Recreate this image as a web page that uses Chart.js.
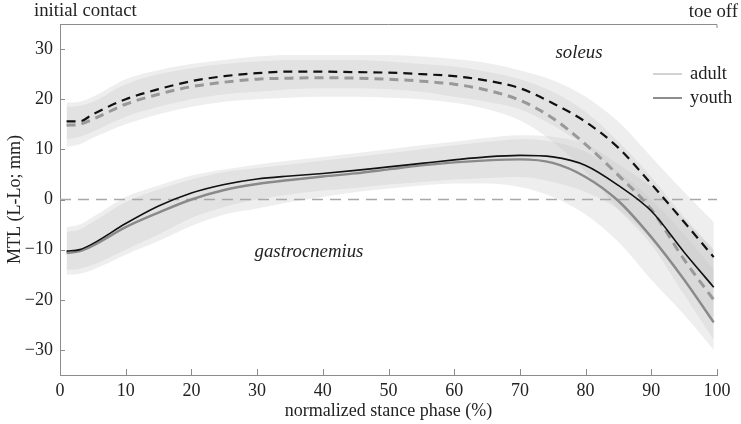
<!DOCTYPE html>
<html lang="en">
<head>
    <meta charset="UTF-8">
    <title>MTL soleus / gastrocnemius</title>
    <script src="https://cdn.jsdelivr.net/npm/chart.js"></script>
    <style>
        html, body { margin: 0; padding: 0; background: #fff; }
        .chart-box { position: relative; width: 741px; height: 424px; }
    </style>
</head>
<body>
    <div class="chart-box">
        <canvas id="mtlChart" width="741" height="424"></canvas>
    </div>

    <script>
        // stance phase (%) sample points
        const xs = [1, 3, 5, 10, 15, 20, 25, 30, 35, 40, 45, 50, 55, 60, 65, 70, 75, 80, 85, 90, 95, 99.5];
        const yTickValues = [-30, -20, -10, 0, 10, 20, 30];

        // soleus (dashed)
        const solYouth   = [15.6, 15.6, 17, 20, 22, 23.6, 24.6, 25.2, 25.5, 25.5, 25.4, 25.3, 25, 24.6, 23.7, 22.2, 19.2, 15.5, 10.3, 3.1, -4.5, -11.5];
        const solAdult   = [14.8, 15, 16, 19, 21, 22.5, 23.4, 24, 24.2, 24.3, 24.2, 24, 23.6, 23, 21.8, 19.8, 16.2, 11, 4.8, -2, -12, -20];
        const solYouthHi = [19.3, 19.5, 20.5, 24, 25.8, 27, 27.8, 28.5, 28.8, 28.8, 28.8, 28.8, 28.5, 28, 27.2, 25.8, 23.8, 20.5, 15.5, 8.5, 1.5, -4.5];
        const solYouthLo = [12, 12.5, 13.5, 16.5, 18.5, 20, 21, 21.5, 22, 22.2, 22.2, 22, 21.5, 20.5, 19.5, 18, 14.8, 10.5, 5, -2, -10, -18];
        const solAdultHi = [18.5, 18.7, 19.5, 23, 25, 26.2, 27, 27.5, 27.8, 27.8, 27.8, 27.5, 27, 26.5, 25.5, 24, 21.5, 17.5, 11.5, 4.5, -3.5, -10];
        const solAdultLo = [10.5, 11, 12.3, 15, 17, 18.5, 19.5, 20, 20.3, 20.5, 20.5, 20.3, 20, 19.3, 18, 15.8, 11.5, 5.5, -2, -9, -19, -28];

        // gastrocnemius (solid)
        const gasYouth   = [-10.3, -10, -8.8, -4.8, -1.3, 1.3, 3, 4.1, 4.7, 5.2, 5.8, 6.5, 7.2, 7.9, 8.5, 8.8, 8.5, 6.8, 2.8, -2.3, -10.5, -17.5];
        const gasAdult   = [-10.7, -10.3, -9.2, -5.5, -2.6, 0, 1.9, 3.1, 3.9, 4.6, 5.2, 6, 6.8, 7.4, 7.8, 8, 7.3, 4.5, -0.3, -7.5, -16, -24.5];
        const gasYouthHi = [-5.5, -5, -3.5, 0.5, 2.8, 4.8, 6, 7, 7.8, 8.5, 9.2, 10, 10.8, 11.5, 12.3, 12.8, 12.5, 11, 7, 2.5, -4, -10];
        const gasYouthLo = [-14, -13.8, -13, -10, -7, -3.7, -1.5, 0, 1, 1.8, 2.3, 3, 3.5, 4, 4.3, 4.5, 3.5, 1.5, -2, -8, -16, -25];
        const gasAdultHi = [-6.5, -6, -4.5, -0.5, 2, 4, 5.5, 6.3, 7, 7.8, 8.5, 9.2, 10, 10.8, 11.5, 12, 11.5, 9.5, 5.5, 0, -7, -14];
        const gasAdultLo = [-15, -14.8, -14, -11, -8.3, -5.3, -3, -1.8, -0.5, 0.5, 1.5, 2.2, 2.8, 3.2, 3.2, 2.5, 0.5, -3, -8.5, -16, -23, -30];

        // zero reference
        const zeroX = [0, 100];
        const zeroY = [0, 0];

        const legendLabels = ['adult', 'youth'];
        const legendColors = ['#cfcfcf', '#808080'];

        const serif = "'Liberation Serif', 'Times New Roman', serif";

        function pts(ys, xv) {
            xv = xv || xs;
            return xv.map((x, i) => ({ x: x, y: ys[i] }));
        }

        function line(ys, color, width, dash) {
            return {
                data: pts(ys),
                borderColor: color,
                borderWidth: width,
                borderDash: dash || [],
                pointRadius: 0,
                fill: false,
                cubicInterpolationMode: 'monotone',
                order: 0
            };
        }

        const bandFill = 'rgba(195,195,195,0.28)';
        function bandHi(ys, target) {
            return {
                data: pts(ys),
                borderWidth: 0,
                borderColor: 'transparent',
                backgroundColor: bandFill,
                pointRadius: 0,
                fill: { target: target },
                cubicInterpolationMode: 'monotone',
                order: 5
            };
        }
        function bandLo(ys) {
            return {
                data: pts(ys),
                borderWidth: 0,
                borderColor: 'transparent',
                pointRadius: 0,
                fill: false,
                cubicInterpolationMode: 'monotone',
                order: 5
            };
        }

        const datasets = [
            line(gasYouth, '#111111', 1.6),
            line(gasAdult, '#8a8a8a', 2.4),
            line(solYouth, '#111111', 2.2, [9, 6]),
            line(solAdult, '#999999', 3, [9, 6]),
            {
                data: pts(zeroY, zeroX),
                borderColor: '#a8a8a8',
                borderWidth: 1.3,
                borderDash: [11, 7],
                pointRadius: 0,
                fill: false,
                order: 3
            },
            bandHi(solYouthHi, 6), bandLo(solYouthLo),     // 5,6
            bandHi(solAdultHi, 8), bandLo(solAdultLo),     // 7,8
            bandHi(gasYouthHi, 10), bandLo(gasYouthLo),    // 9,10
            bandHi(gasAdultHi, 12), bandLo(gasAdultLo)     // 11,12
        ];

        const decorations = {
            id: 'decorations',
            afterDraw(chart) {
                const ctx = chart.ctx;
                const xS = chart.scales.x, yS = chart.scales.y;
                const a = chart.chartArea;
                ctx.save();
                // top frame line
                ctx.strokeStyle = '#8c8c8c';
                ctx.lineWidth = 1;
                ctx.beginPath();
                ctx.moveTo(a.left, a.top + 0.5);
                ctx.lineTo(a.right, a.top + 0.5);
                ctx.lineTo(a.right, a.top + 4);
                ctx.stroke();
                // inward ticks
                ctx.beginPath();
                yS.ticks.forEach(t => {
                    const py = Math.round(yS.getPixelForValue(t.value)) + 0.5;
                    ctx.moveTo(a.left, py);
                    ctx.lineTo(a.left + 5, py);
                });
                xS.ticks.forEach(t => {
                    const px = Math.round(xS.getPixelForValue(t.value)) + 0.5;
                    ctx.moveTo(px, a.bottom);
                    ctx.lineTo(px, a.bottom - 6);
                });
                ctx.stroke();

                // texts
                ctx.fillStyle = '#222';
                ctx.textBaseline = 'middle';
                ctx.font = '18.8px ' + serif;
                ctx.textAlign = 'left';
                ctx.fillText('initial contact', 34, 11);
                ctx.textAlign = 'right';
                ctx.fillText('toe off', 738, 12);

                ctx.font = 'italic 18.8px ' + serif;
                ctx.textAlign = 'center';
                ctx.fillText('soleus', xS.getPixelForValue(79), yS.getPixelForValue(29.2));
                ctx.fillText('gastrocnemius', xS.getPixelForValue(37.9), yS.getPixelForValue(-10.5));

                // legend
                ctx.font = '18.5px ' + serif;
                ctx.textAlign = 'left';
                legendLabels.forEach((lab, i) => {
                    const ly = 74 + i * 24;
                    ctx.strokeStyle = legendColors[i];
                    ctx.lineWidth = 1.8;
                    ctx.beginPath();
                    ctx.moveTo(653, ly);
                    ctx.lineTo(682, ly);
                    ctx.stroke();
                    ctx.fillText(lab, 690, ly);
                });
                ctx.restore();
            }
        };

        new Chart(document.getElementById('mtlChart'), {
            type: 'line',
            data: { datasets: datasets },
            options: {
                responsive: false,
                animation: false,
                events: [],
                layout: { padding: { top: 24, right: 24, left: 0, bottom: 0 } },
                plugins: {
                    legend: { display: false },
                    tooltip: { enabled: false }
                },
                scales: {
                    x: {
                        type: 'linear',
                        min: 0,
                        max: 100,
                        ticks: {
                            stepSize: 10,
                            color: '#222',
                            padding: 5,
                            maxRotation: 0,
                            font: { family: serif, size: 18 }
                        },
                        grid: { display: false, drawTicks: false },
                        border: { display: true, color: '#8c8c8c', width: 1 },
                        title: {
                            display: true,
                            text: 'normalized stance phase (%)',
                            color: '#222',
                            font: { family: serif, size: 18 },
                            padding: { top: 0, bottom: 2 }
                        },
                        afterFit(s) { s.height = 49; }
                    },
                    y: {
                        type: 'linear',
                        min: -35,
                        max: 35,
                        afterBuildTicks(s) {
                            s.ticks = yTickValues.map(v => ({ value: v }));
                        },
                        ticks: {
                            color: '#222',
                            padding: 7,
                            font: { family: serif, size: 18 },
                            callback: v => (v < 0 ? '\u2212' + Math.abs(v) : String(v))
                        },
                        grid: { display: false, drawTicks: false },
                        border: { display: true, color: '#8c8c8c', width: 1 },
                        title: {
                            display: true,
                            text: 'MTL (L-Lo; mm)',
                            color: '#222',
                            font: { family: serif, size: 18 },
                            padding: { top: 4, bottom: 0 }
                        },
                        afterFit(s) { s.width = 60; }
                    }
                }
            },
            plugins: [decorations]
        });
    </script>
</body>
</html>
